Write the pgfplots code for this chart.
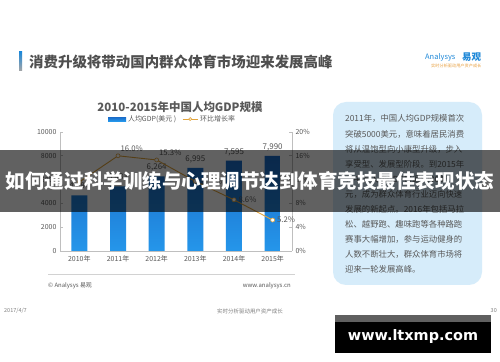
\documentclass[border=0pt]{standalone}
\usepackage{pgfplots}
\pgfplotsset{compat=1.18}
\usepackage{fontspec}
\setmainfont{Noto Sans CJK SC}
\newfontfamily\wmfont{DejaVu Sans}
\definecolor{txt}{HTML}{595959}
\definecolor{ttl}{HTML}{4F4F4F}
\definecolor{barTop}{HTML}{1A6BC8}
\definecolor{barBot}{HTML}{2596EA}
\definecolor{lineC}{HTML}{E2A43C}
\definecolor{boxC}{HTML}{D6ECFA}
\definecolor{axC}{HTML}{BFBFBF}
\definecolor{logoB}{HTML}{1E88D8}
\definecolor{logoO}{HTML}{E8A040}
\definecolor{foot}{HTML}{7F7F7F}
\begin{document}
\begin{tikzpicture}
\fill[white] (0bp,0bp) rectangle (500bp,362bp);
\coordinate (A) at (60bp,111bp);
% page title
\shade[top color=logoB, bottom color=gray!70] (19bp,291bp) rectangle (22bp,310bp);
\node[anchor=west, inner sep=0, font=\fontsize{14.5}{16}\selectfont\bfseries, text=ttl] at (29bp,300bp) {消费升级将带动国内群众体育市场迎来发展高峰};
% logo
\node[anchor=west, inner sep=0, font=\fontsize{7.5}{8}\selectfont, text=logoB] at (425bp,305bp) {Analysys};
\node[anchor=west, inner sep=0, font=\fontsize{9.5}{10}\selectfont\bfseries, text=logoB] at (462bp,305bp) {易观};
\node[anchor=west, inner sep=0, font=\fontsize{4.2}{5}\selectfont, text=logoO] at (431bp,296bp) {实时分析驱动用户资产成长};
% chart title
\node[inner sep=0, font=\fontsize{11.5}{13}\selectfont\bfseries, text=txt] at (180bp,255bp) {2010-2015年中国人均GDP规模};

\begin{axis}[at={(A)}, anchor=south west, scale only axis,
  width=232bp, height=119bp, xmin=-0.5, xmax=5.5, ymin=0, ymax=10000,
  axis y line*=left, axis x line*=bottom,
  axis line style={axC, line width=0.6bp},
  xtick={0,...,5}, xticklabels={2010年,2011年,2012年,2013年,2014年,2015年},
  ytick={0,2000,...,10000}, scaled y ticks=false,
  /pgf/number format/1000 sep={},
  /pgf/number format/assume math mode=true,
  tick label style={font=\fontsize{7}{8}\selectfont, text=txt},
  xticklabel style={yshift=-1bp},
  x tick style={draw=none},
  y tick style={axC, line width=0.6bp},
  tick align=inside, major tick length=3bp,
  legend style={at={(0.485,1.109)}, anchor=center, draw=none, fill=none,
    legend columns=2, font=\fontsize{7}{8}\selectfont, text=txt,
    /tikz/every even column/.append style={column sep=4bp},
    inner sep=0pt, row sep=0pt},
]
\addplot[ybar, bar width=16bp, bar shift=0pt, draw=none, top color=barTop, bottom color=barBot,
  legend image code/.code={\fill[barTop] (0bp,-2bp) rectangle (18bp,2bp);}]
  coordinates {(0,4684) (1,5433) (2,6264) (3,6995) (4,7595) (5,7990)};
\addlegendentry{人均GDP(美元 )}
\addplot[draw=none, mark=none, forget plot, nodes near coords, point meta=explicit symbolic,
  every node near coord/.append style={font=\fontsize{8}{9}\selectfont, text=txt, anchor=south, yshift=1.5bp}]
  coordinates {(0,4684) [4{,}684] (1,5433) [5{,}433] (2,6264) [6{,}264] (3,6995) [6{,}995] (4,7595) [7{,}595] (5,7990) [7{,}990]};
\addlegendimage{legend image code/.code={\draw[lineC, line width=0.9bp] (0bp,0bp) -- (15bp,0bp); \draw[lineC, fill=white, line width=0.6bp] (7.5bp,0bp) circle (1.5bp);}}
\addlegendentry{环比增长率}
\end{axis}

\begin{axis}[at={(A)}, anchor=south west, scale only axis,
  width=232bp, height=119bp, xmin=-0.5, xmax=5.5, ymin=0, ymax=20,
  axis y line*=right, axis x line=none,
  axis line style={axC, line width=0.6bp},
  ytick={0,4,...,20},
  yticklabel={\pgfmathprintnumber{\tick}\%},
  /pgf/number format/assume math mode=true,
  tick label style={font=\fontsize{7}{8}\selectfont, text=txt},
  y tick style={axC, line width=0.6bp},
  tick align=inside, major tick length=3bp,
]
\addplot[lineC, line width=0.9bp, mark=*, mark size=2bp,
  mark options={fill=white, draw=lineC, line width=0.6bp}]
  coordinates {(0,11.6) (1,16.0) (2,15.3) (3,11.7) (4,8.6) (5,5.2)};
\addplot[draw=none, mark=none, nodes near coords, point meta=explicit symbolic,
  every node near coord/.append style={font=\fontsize{7.8}{9}\selectfont, text=txt, anchor=south west, xshift=-1bp, yshift=0.5bp}]
  coordinates {(1,16.0) [16.0\%] (2,15.3) [15.3\%]};
\addplot[draw=none, mark=none, nodes near coords, point meta=explicit symbolic,
  every node near coord/.append style={font=\fontsize{7.8}{9}\selectfont, text=txt, anchor=west, xshift=1bp}]
  coordinates {(3,11.7) [11.7\%] (4,8.6) [8.6\%] (5,5.2) [5.2\%]};
\end{axis}

% footer of chart
\draw[axC!70, line width=0.5bp] (48bp,88bp) -- (295bp,88bp);
\node[anchor=west, inner sep=0, font=\fontsize{6}{7}\selectfont, text=txt] at (48bp,76bp) {© Analysys 易观};
\node[anchor=east, inner sep=0, font=\fontsize{6}{7}\selectfont, text=txt] at (291bp,76bp) {www.analysys.cn};
% page footer
\node[anchor=west, inner sep=0, font=\fontsize{5.5}{6}\selectfont, text=foot] at (4bp,51bp) {2017/4/7};
\node[inner sep=0, font=\fontsize{5.5}{6}\selectfont, text=foot] at (250bp,51bp) {实时分析驱动用户资产成长};
\node[anchor=east, inner sep=0, font=\fontsize{5.5}{6}\selectfont, text=foot] at (497bp,51bp) {30};

% text box
\fill[boxC, rounded corners=13bp] (333bp,77bp) rectangle (482bp,260bp);
\foreach \t [count=\i] in {
  {2011年，中国人均GDP规模首次},
  {突破5000美元，意味着居民消费},
  {将从温饱型向小康型升级，步入},
  {享受型、发展型阶段。到2015年},
  {，中国人均GDP接近8000美},
  {元，成为群众体育行业迈向快速},
  {发展的新起点。2016年包括马拉},
  {松、越野跑、趣味跑等各种路跑},
  {赛事大幅增加，参与运动健身的},
  {人数不断壮大，群众体育市场将},
  {迎来一轮发展高峰。}}
  {\node[anchor=base west, inner sep=0, font=\fontsize{8.4}{10}\selectfont, text=txt] at (345bp,{240bp-15.1bp*(\i-1)}) {\t};}

% banner
\fill[black, opacity=0.62] (0bp,150bp) rectangle (500bp,212bp);
\node[inner sep=0, text=white, font=\fontsize{19.6}{21}\selectfont\bfseries] at (250bp,181bp) {如何通过科学训练与心理调节达到体育竞技最佳表现状态};

% watermark
\fill[gray!75!black] (335bp,40bp) rectangle (491bp,47bp);
\fill[black] (335bp,9bp) rectangle (491bp,40bp);
\node[inner sep=0, text=white, font=\wmfont\fontsize{14.5}{16}\selectfont\bfseries] at (413bp,25bp) {www.ltxmp.com};
\end{tikzpicture}
\end{document}
